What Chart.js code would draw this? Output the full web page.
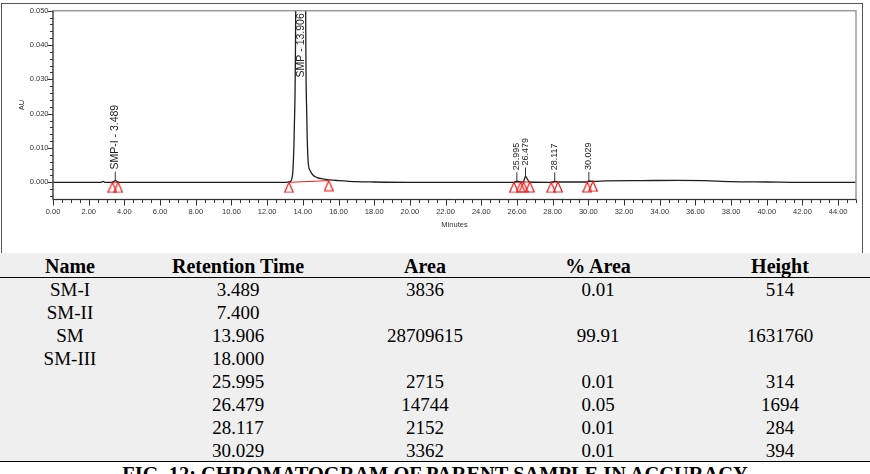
<!DOCTYPE html>
<html>
<head>
<meta charset="utf-8">
<script src="https://cdn.jsdelivr.net/npm/chart.js@4.4.0/dist/chart.umd.min.js"></script>
<style>
html, body { margin: 0; padding: 0; background: #fff; width: 870px; height: 474px; overflow: hidden; }
#box { position: absolute; left: 1px; top: 3px; width: 860px; height: 249px; border: 1px solid #555; background: #fff; }
#chartWrap { position: absolute; left: 0; top: 0; width: 870px; height: 254px; }
#tbl { position: absolute; left: 0; top: 253px; width: 870px; height: 208px; background: #efefef;
  border-bottom: 1.5px solid #000; font-family: "Liberation Serif", "Times New Roman", serif; color: #000; }
.row { position: absolute; left: 0; width: 870px; }
.head { top: 0; height: 24px; line-height: 26px; border-bottom: 1px solid #000; font-weight: bold; font-size: 20px; }
.cell { position: absolute; top: 0; transform: translateX(-50%); white-space: nowrap; }
#caption { position: absolute; left: 0; top: 463.5px; width: 870px; text-align: center; font-family: "Liberation Serif", "Times New Roman", serif;
  font-weight: bold; font-size: 20.4px; line-height: 20px; }
</style>
</head>
<body>
<div id="box"></div>
<div id="chartWrap"><canvas id="chrom"></canvas></div>
<div id="tbl"></div>
<div id="caption">FIG. 12: CHROMATOGRAM OF PARENT SAMPLE IN ACCURACY</div>
<script>
// detector trace (minutes, AU)
const traceTime = [0, 1.0, 2.0, 2.7, 2.8, 2.9, 3.3, 3.489, 3.7, 5, 8, 11, 13.0, 13.3, 13.38, 13.45, 13.52, 13.6, 13.68, 13.78, 13.906,
  14.02, 14.1, 14.16, 14.22, 14.3, 14.4, 14.55, 14.8, 15.1, 15.5, 16.0, 17.0, 18.0, 20, 22, 24, 25.8, 25.995, 26.2, 26.35, 26.479,
  26.7, 27.9, 28.117, 28.3, 29.9, 30.029, 30.3, 31, 33, 35, 36.5, 38, 40, 42, 45];
const traceAU = [0, 0, 0, 0, 0.0003, 0, 0, 0.000514, 0, 0, 0, 0, 0, 0.0002, 0.001, 0.004, 0.015, 0.05, 0.2, 0.8, 1.63176,
  0.8, 0.2, 0.05, 0.02, 0.006, 0.0035, 0.0022, 0.0014, 0.001, 0.0007, 0.0005, 0.0002, 0.0001, 0, 0, 0, 0, 0.000314, 0.0001, 0.0001, 0.001694,
  0.0001, 0, 0.000284, 0.0001, 0.0001, 0.000394, 0.0003, 0.0004, 0.0005, 0.0006, 0.0005, 0.0002, 0.0001, 0, 0];

// integration start/end marks (red triangles), in pairs
const markTime = [3.33, 3.65, 13.22, 15.45, 25.83, 26.2, 26.37, 26.72, 27.92, 28.3, 29.94, 30.26];
const markAU = [0, 0, 0, 0.0005, 0, 0.0001, 0.0001, 0.0001, 0, 0.0001, 0.0001, 0.0003];

// peak labels
const peakNames = ['SMP-I - 3.489', 'SMP - 13.906', '25.995', '26.479', '28.117', '30.029'];
const peakTime = [3.489, 13.906, 25.995, 26.479, 28.117, 30.029];
const peakAU = [0.000514, 1.63176, 0.000314, 0.001694, 0.000284, 0.000394];

// axis ticks
const xTickValues = [0, 2, 4, 6, 8, 10, 12, 14, 16, 18, 20, 22, 24, 26, 28, 30, 32, 34, 36, 38, 40, 42, 44];
const yTickValues = [0, 0.01, 0.02, 0.03, 0.04, 0.05];

// results table
const colHeads = ['Name', 'Retention Time', 'Area', '% Area', 'Height'];
const names = ['SM-I', 'SM-II', 'SM', 'SM-III', '', '', '', ''];
const retTimes = ['3.489', '7.400', '13.906', '18.000', '25.995', '26.479', '28.117', '30.029'];
const areas = ['3836', '', '28709615', '', '2715', '14744', '2152', '3362'];
const pctAreas = ['0.01', '', '99.91', '', '0.01', '0.05', '0.01', '0.01'];
const heights = ['514', '', '1631760', '', '314', '1694', '284', '394'];

const colX = [70, 238, 425, 598, 780];

// build table
let html = '<div class="row head">';
colHeads.forEach((h, i) => { html += `<span class="cell" style="left:${colX[i]}px">${h}</span>`; });
html += '</div>';
for (let r = 0; r < retTimes.length; r++) {
  const vals = [names[r], retTimes[r], areas[r], pctAreas[r], heights[r]];
  html += `<div class="row" style="top:${25 + r * 23}px;height:23px;line-height:23px;font-size:19px">`;
  vals.forEach((v, i) => { html += `<span class="cell" style="left:${colX[i]}px">${v}</span>`; });
  html += '</div>';
}
document.getElementById('tbl').innerHTML = html;

// hollow red triangle, apex at the point
const tri = document.createElement('canvas');
tri.width = 10; tri.height = 22;
const tctx = tri.getContext('2d');
tctx.strokeStyle = '#f01c1c';
tctx.lineWidth = 1.2;
tctx.beginPath();
tctx.moveTo(5, 11); tctx.lineTo(9.3, 21); tctx.lineTo(0.7, 21); tctx.closePath();
tctx.stroke();

const baseLine = [];
for (let i = 0; i < markTime.length; i += 2) {
  baseLine.push({x: markTime[i], y: markAU[i]}, {x: markTime[i + 1], y: markAU[i + 1]}, {x: markTime[i + 1] + 0.01, y: null});
}

const tickFont = {family: '"Liberation Sans", Arial, sans-serif', size: 7.5};

const chromPlugin = {
  id: 'chrom',
  afterDatasetsDraw(chart) {
    const {ctx, chartArea: a, scales: {x, y}} = chart;
    ctx.save();
    ctx.strokeStyle = '#9a9a9a';
    ctx.lineWidth = 1.5;
    ctx.strokeRect(a.left, a.top, a.right - a.left, a.bottom - a.top);
    ctx.strokeStyle = '#333';
    ctx.lineWidth = 1;
    ctx.beginPath();
    ctx.moveTo(a.left, a.top); ctx.lineTo(a.left, a.bottom); ctx.lineTo(a.right, a.bottom);
    for (let i = 0; i <= 90; i++) {
      const px = Math.round(x.getPixelForValue(i * 0.5)) + 0.5;
      ctx.moveTo(px, a.bottom);
      ctx.lineTo(px, a.bottom + (i % 4 === 0 ? 6 : 3.5));
    }
    for (let i = -2; i <= 25; i++) {
      const py = Math.round(y.getPixelForValue(i * 0.002)) + 0.5;
      ctx.moveTo(a.left, py);
      ctx.lineTo(a.left - (i % 5 === 0 ? 5 : 3), py);
    }
    ctx.stroke();

    ctx.fillStyle = '#222';
    ctx.textBaseline = 'middle';
    peakNames.forEach((name, i) => {
      const px = x.getPixelForValue(peakTime[i]);
      const py = y.getPixelForValue(peakAU[i]);
      // named peaks are printed a little larger than the bare retention times
      ctx.font = (name.includes(' - ') ? '10.5px' : '9px') + ' "Liberation Sans", Arial, sans-serif';
      ctx.save();
      if (py > a.top + 60) {
        ctx.beginPath();
        ctx.moveTo(px, py); ctx.lineTo(px, py - 9);
        ctx.stroke();
        ctx.translate(px, py - 11);
        ctx.rotate(-Math.PI / 2);
        ctx.textAlign = 'left';
      } else {
        ctx.translate(px, a.top + 2.5);
        ctx.rotate(-Math.PI / 2);
        ctx.textAlign = 'right';
      }
      ctx.fillText(name, 0, 0);
      ctx.restore();
    });
    ctx.restore();
  }
};

new Chart(document.getElementById('chrom'), {
  type: 'line',
  data: {
    datasets: [
      {
        data: traceTime.map((t, i) => ({x: t, y: traceAU[i]})),
        borderColor: '#1e1e1e', borderWidth: 1.3, pointRadius: 0,
        cubicInterpolationMode: 'monotone', order: 2
      },
      {
        data: baseLine,
        borderColor: '#f01c1c', borderWidth: 1, pointRadius: 0, spanGaps: false, order: 3
      },
      {
        data: markTime.map((t, i) => ({x: t, y: markAU[i]})),
        showLine: false, pointStyle: tri, pointRadius: 5, order: 1
      }
    ]
  },
  options: {
    responsive: true,
    maintainAspectRatio: false,
    animation: false,
    layout: {padding: {left: 0, right: 14, top: 10.7, bottom: 0}},
    plugins: {legend: {display: false}, tooltip: {enabled: false}},
    scales: {
      x: {
        type: 'linear', min: 0, max: 45,
        afterFit: s => { s.height = 54.5; },
        afterBuildTicks: s => { s.ticks = xTickValues.map(v => ({value: v})); },
        grid: {display: false, drawTicks: false}, border: {display: false},
        ticks: {font: tickFont, color: '#333', padding: 8, maxRotation: 0, autoSkip: false,
          callback: v => Number(v).toFixed(2)},
        title: {display: true, text: 'Minutes', font: tickFont, color: '#333', padding: {top: 0, bottom: 24.5}}
      },
      y: {
        type: 'linear', min: -0.005, max: 0.05,
        afterFit: s => { s.width = 53; },
        afterBuildTicks: s => { s.ticks = yTickValues.map(v => ({value: v})); },
        grid: {display: false, drawTicks: false}, border: {display: false},
        ticks: {font: tickFont, color: '#333', padding: 4.5, callback: v => Number(v).toFixed(3)},
        title: {display: true, text: 'AU', font: tickFont, color: '#333', padding: {top: 17.5, bottom: 0}}
      }
    }
  },
  plugins: [chromPlugin]
});
</script>
</body>
</html>
